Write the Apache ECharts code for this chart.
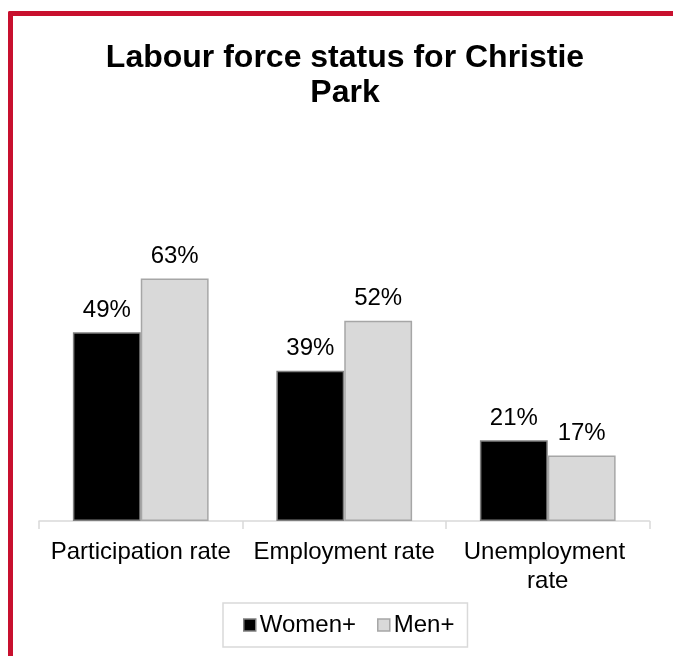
<!DOCTYPE html>
<html>
<head>
<meta charset="utf-8">
<script src="https://cdn.jsdelivr.net/npm/echarts@6/dist/echarts.min.js"></script>
<style>
html,body{margin:0;padding:0;background:#fff;}
#chart{width:673px;height:656px;}
</style>
</head>
<body>
<div id="chart"></div>
<script>
const titleText = 'Labour force status for Christie\nPark';
const categories = ['Participation rate', 'Employment rate', 'Unemployment rate'];
const seriesNames = ['Women+', 'Men+'];
const women = [49, 39, 21];
const men = [63, 52, 17];

const FONT = "'Liberation Sans', Arial, sans-serif";
const chart = echarts.init(document.getElementById('chart'), null, {renderer: 'canvas'});
chart.setOption({
  backgroundColor: '#ffffff',
  animation: false,
  graphic: [
    {type: 'rect', shape: {x: 8, y: 11, width: 665, height: 5, r: [2, 0, 0, 0]}, style: {fill: '#C8102E'}},
    {type: 'rect', shape: {x: 8, y: 11, width: 5, height: 645, r: [2, 0, 0, 0]}, style: {fill: '#C8102E'}}
  ],
  title: {
    text: titleText,
    left: 340,
    top: 36,
    textAlign: 'center',
    textStyle: {fontFamily: FONT, fontSize: 32, fontWeight: 'bold', color: '#000', lineHeight: 35}
  },
  legend: {
    data: [
      {name: seriesNames[0], itemStyle: {color: '#000', borderColor: '#7f7f7f', borderWidth: 1.5}},
      {name: seriesNames[1], itemStyle: {color: '#d9d9d9', borderColor: '#a6a6a6', borderWidth: 1.5}}
    ],
    left: 223,
    top: 603,
    icon: 'rect',
    itemWidth: 12,
    itemHeight: 12,
    itemGap: 21,
    padding: [10, 13, 10, 20],
    borderColor: '#d9d9d9',
    borderWidth: 1.5,
    textStyle: {fontFamily: FONT, fontSize: 24, color: '#000', padding: [0, 0, 0, -1]}
  },
  grid: {left: 39, right: 23.5, top: 251.5, bottom: 135, containLabel: false},
  xAxis: {
    type: 'category',
    data: categories,
    axisLine: {show: true, lineStyle: {color: '#d9d9d9', width: 1.5}},
    axisTick: {show: true, length: 8, lineStyle: {color: '#d9d9d9', width: 1.5}},
    axisLabel: {
      interval: 0,
      margin: 17,
      fontFamily: FONT,
      fontSize: 24,
      color: '#000',
      lineHeight: 29,
      width: 196,
      overflow: 'break'
    }
  },
  yAxis: {
    type: 'value',
    min: 0,
    max: 70,
    show: false,
    splitLine: {show: false}
  },
  series: [
    {
      name: seriesNames[0],
      type: 'bar',
      data: women,
      barGap: '0%',
      barCategoryGap: '33.3%',
      itemStyle: {color: '#000', borderColor: '#7f7f7f', borderWidth: 1.5},
      label: {show: true, position: 'top', distance: 10, formatter: '{c}%', fontFamily: FONT, fontSize: 24, color: '#000'}
    },
    {
      name: seriesNames[1],
      type: 'bar',
      data: men,
      barGap: '0%',
      barCategoryGap: '33.3%',
      itemStyle: {color: '#d9d9d9', borderColor: '#a6a6a6', borderWidth: 1.5},
      label: {show: true, position: 'top', distance: 10, formatter: '{c}%', fontFamily: FONT, fontSize: 24, color: '#000'}
    }
  ]
});
</script>
</body>
</html>
